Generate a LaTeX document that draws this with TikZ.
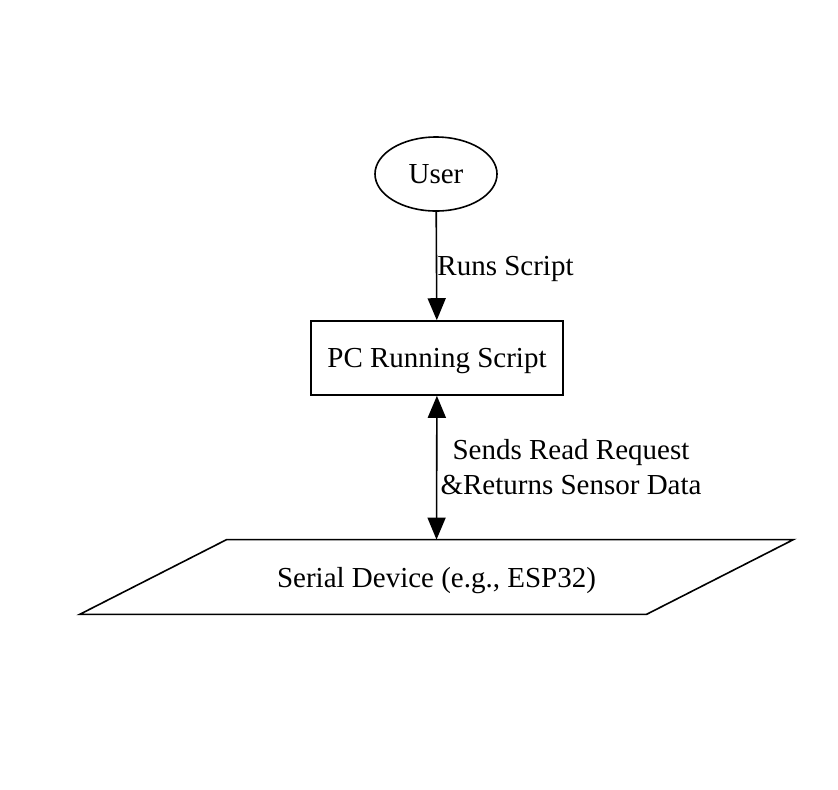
\documentclass[tikz,border=0pt]{standalone}
\usepackage{fontspec}
\setmainfont{Liberation Serif}
\usetikzlibrary{arrows.meta,shapes.geometric,positioning,calc}

\begin{document}
\begin{tikzpicture}[y=-0.5pt,x=0.5pt,
	every node/.style={font=\fontsize{14.5}{17.5}\selectfont},
	line/.style={line width=0.8pt},
	tip/.tip={Triangle[length=11pt,width=9pt]},
	flow/.style={line,-tip},
	both/.style={line,tip-tip},
	actor/.style={ellipse,draw,line,minimum width=61pt,minimum height=37pt,inner sep=0pt,text depth=0pt},
	proc/.style={rectangle,draw,line,minimum width=126pt,minimum height=37pt,text depth=0pt},
	io/.style={minimum width=356.5pt,minimum height=37pt,inner sep=0pt,text depth=0pt}]
	\useasboundingbox (0,0) rectangle (838,789);

	\node[actor] (user) at (436,174) {User};
	\node[proc] (pc) at (437,358) {PC Running Script};
	\node[io] (dev) at (436.5,577) {Serial Device (e.g., ESP32)};
	% parallelogram round the device
	\draw[line] ($(dev.north west)+(73.5pt,0)$) -- (dev.north east)
		-- ($(dev.south east)-(73.5pt,0)$) -- (dev.south west) -- cycle;

	\draw[flow] (user) -- (pc);
	\draw[both] (pc) -- (dev.north);

	\node[anchor=west,inner sep=0pt,text depth=0pt] (runs) at (437,266) {Runs Script};
	\node[align=center,inner sep=0pt] (req) at (571,467) {Sends Read Request\\\&Returns Sensor Data};
\end{tikzpicture}
\end{document}
